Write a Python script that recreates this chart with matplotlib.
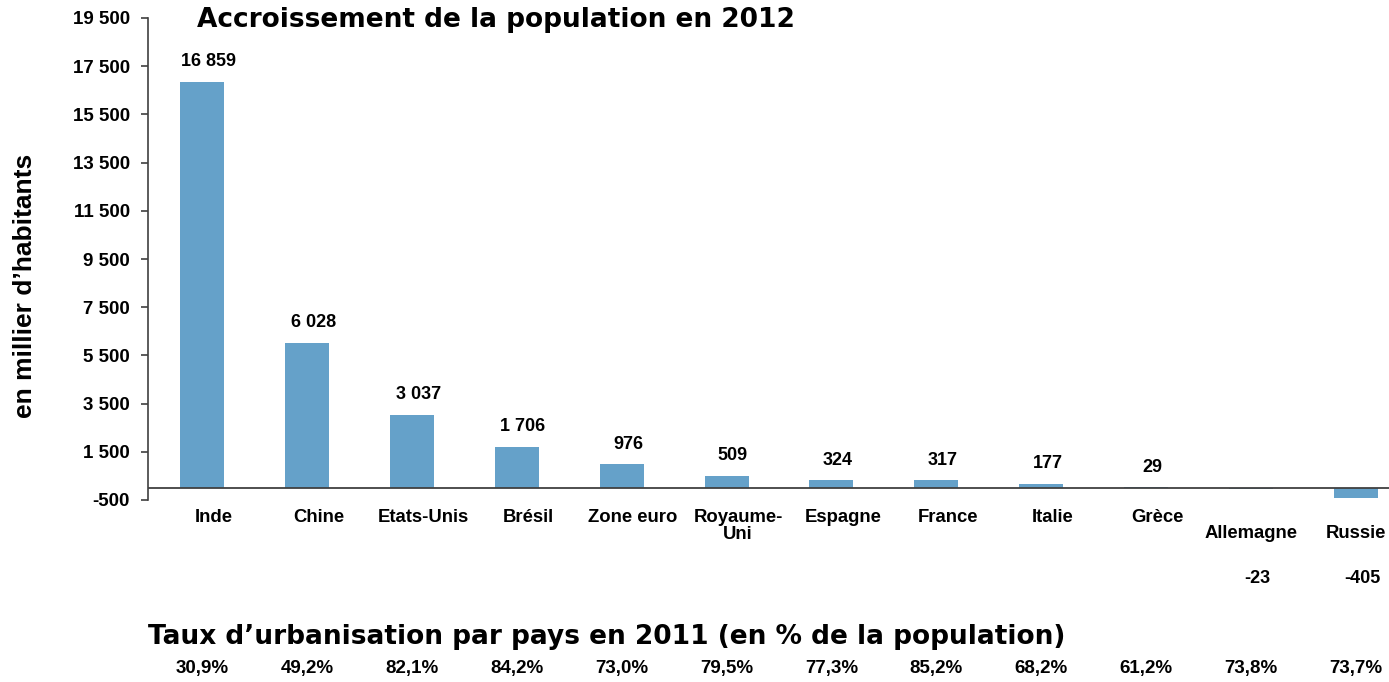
import matplotlib
matplotlib.use("Agg")
import matplotlib.pyplot as plt

countries = ["Inde", "Chine", "Etats-Unis", "Brésil", "Zone euro", "Royaume-\nUni",
             "Espagne", "France", "Italie", "Grèce", "Allemagne", "Russie"]
growth = [16859, 6028, 3037, 1706, 976, 509, 324, 317, 177, 29, -23, -405]
growth_labels = ["16 859", "6 028", "3 037", "1 706", "976", "509", "324", "317",
                 "177", "29", "-23", "-405"]
urban = ["30,9%", "49,2%", "82,1%", "84,2%", "73,0%", "79,5%", "77,3%", "85,2%",
         "68,2%", "61,2%", "73,8%", "73,7%"]
yticks = [-500, 1500, 3500, 5500, 7500, 9500, 11500, 13500, 15500, 17500, 19500]
ytick_labels = ["-500", "1 500", "3 500", "5 500", "7 500", "9 500", "11 500",
                "13 500", "15 500", "17 500", "19 500"]

W, H = 1389, 682
fig = plt.figure(figsize=(W / 100, H / 100), dpi=100)
left, right, bottom, top = 148, 1389, 500, 18
ax = fig.add_axes([left / W, 1 - bottom / H, (right - left) / W, (bottom - top) / H])

AR = "Liberation Sans"
bar_color = "#65A1C9"
x = list(range(len(countries)))
ax.bar(x, growth, width=0.42, color=bar_color, zorder=2)
ax.set_xlim(-0.515, 11.315)
ax.set_ylim(-500, 19500)
ax.axhline(0, color="#404040", lw=1.3, zorder=3)

for s in ["top", "right", "bottom"]:
    ax.spines[s].set_visible(False)
ax.spines["left"].set_color("#404040")
ax.spines["left"].set_linewidth(1.2)
ax.set_xticks([])
ax.set_yticks(yticks)
ax.set_yticklabels(ytick_labels, fontfamily=AR, fontweight="bold", fontsize=13.5)
ax.tick_params(axis="y", direction="out", length=5, width=1.2, color="#404040", pad=8)

ax.set_ylabel("en millier d\u2019habitants", fontfamily=AR, fontweight="bold",
              fontsize=19)
ax.yaxis.set_label_coords(-0.0894, 0.444)

xt = ax.get_xaxis_transform()
n = len(countries)
for i, (c, v, lab, u) in enumerate(zip(countries, growth, growth_labels, urban)):
    low = v < 0
    last = i == n - 1
    if last:
        ax.text(0.998, -0.052, c, transform=ax.transAxes, ha="right", va="top",
                fontfamily=AR, fontweight="bold", fontsize=13.3)
    else:
        ax.text(i + (0 if low else 0.11), -0.019 if not low else -0.052, c,
                transform=xt, ha="center", va="top",
                fontfamily=AR, fontweight="bold", fontsize=13.3, linespacing=1.0)
    if low:
        ax.text(i + 0.06, -0.162, lab, transform=xt, ha="center", va="center",
                fontfamily=AR, fontweight="bold", fontsize=13)
    else:
        ax.annotate(lab, (i, v), xytext=(4.5, 14.5), textcoords="offset points",
                    ha="center", va="center", fontfamily=AR, fontweight="bold",
                    fontsize=13)
    ax.text(i, -0.349, u, transform=xt, ha="center", va="center",
            fontfamily=AR, fontweight="bold", fontsize=13.5)

ax.text(0.2803, 0.996, "Accroissement de la population en 2012", transform=ax.transAxes,
        ha="center", va="center", fontfamily="DejaVu Sans", fontweight="bold", fontsize=19)
ax.text(0.0, -0.284, "Taux d\u2019urbanisation par pays en 2011 (en % de la population)",
        transform=ax.transAxes, ha="left", va="center", fontfamily="DejaVu Sans",
        fontweight="bold", fontsize=19)

fig.savefig("out.png", dpi=100)
